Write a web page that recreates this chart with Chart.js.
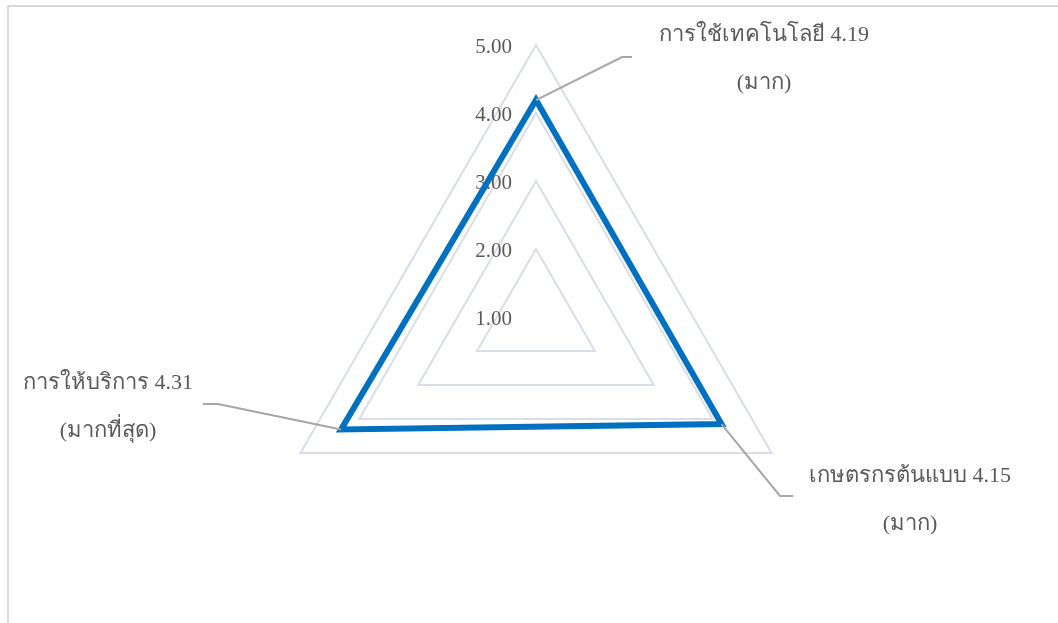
<!DOCTYPE html>
<html>
<head>
<meta charset="utf-8">
<script src="https://cdn.jsdelivr.net/npm/chart.js@4/dist/chart.umd.min.js"></script>
<style>
  body { margin: 0; background: #fff; }
  #frame { position: absolute; left: 7px; top: 5px; right: 0; bottom: 0;
           border-top: 2px solid #d9d9d9; border-left: 2px solid #d9d9d9; }
  #radarChart { position: absolute; left: 0; top: 0; }
</style>
</head>
<body>
<div id="frame"></div>
<canvas id="radarChart" width="1058" height="623"></canvas>
<script>
// data
var categories = ['การใช้เทคโนโลยี', 'เกษตรกรต้นแบบ', 'การให้บริการ'];
var scores = [4.19, 4.15, 4.31];
var levels = ['มาก', 'มาก', 'มากที่สุด'];
var tickLabels = ['1.00', '2.00', '3.00', '4.00', '5.00'];

var textColor = '#595959';
var fontFamily = '"Liberation Serif", "DejaVu Serif", serif';

// tick labels sit left of the vertical axis, 1.00 included at the centre
var tickLabelPlugin = {
    id: 'tickLabels',
    beforeDatasetsDraw: function(chart) {
        var scale = chart.scales.r;
        var ctx = chart.ctx;
        ctx.save();
        ctx.font = '21px ' + fontFamily;
        ctx.fillStyle = textColor;
        ctx.textAlign = 'right';
        ctx.textBaseline = 'middle';
        scale.ticks.forEach(function(tick, i) {
            var y = scale.yCenter - scale.getDistanceFromCenterForValue(tick.value);
            ctx.fillText(tickLabels[i], scale.xCenter - 24, y + 2);
        });
        ctx.restore();
    }
};

// callout boxes with leader lines
var callouts = [
    { elbow: [622, 57], end: [632, 57], text: [764, 35] },
    { elbow: [780, 496], end: [793, 496], text: [910, 476] },
    { elbow: [218, 404], end: [203, 404], text: [108, 383] }
];

var calloutPlugin = {
    id: 'callouts',
    afterDatasetsDraw: function(chart) {
        var ctx = chart.ctx;
        var points = chart.getDatasetMeta(0).data;
        ctx.save();
        ctx.strokeStyle = '#a6a6a6';
        ctx.lineWidth = 2;
        ctx.font = '22px ' + fontFamily;
        ctx.fillStyle = textColor;
        ctx.textAlign = 'center';
        ctx.textBaseline = 'middle';
        points.forEach(function(p, i) {
            var c = callouts[i];
            ctx.beginPath();
            ctx.moveTo(p.x, p.y);
            ctx.lineTo(c.elbow[0], c.elbow[1]);
            ctx.lineTo(c.end[0], c.end[1]);
            ctx.stroke();
            ctx.fillText(categories[i] + ' ' + scores[i].toFixed(2), c.text[0], c.text[1]);
            ctx.fillText('(' + levels[i] + ')', c.text[0], c.text[1] + 48);
        });
        ctx.restore();
    }
};

var ctx = document.getElementById('radarChart').getContext('2d');
var radarChart = new Chart(ctx, {
    type: 'radar',
    data: {
        labels: categories,
        datasets: [{
            label: 'คะแนนเฉลี่ย',
            data: scores,
            fill: false,
            borderColor: '#0070c0',
            backgroundColor: 'rgba(0,0,0,0)',
            borderWidth: 6,
            pointRadius: 0,
            pointHoverRadius: 0
        }]
    },
    options: {
        responsive: false,
        animation: false,
        devicePixelRatio: 1,
        layout: { padding: { top: 45, bottom: 34, left: 14, right: 0 } },
        plugins: {
            legend: { display: false },
            tooltip: { enabled: false }
        },
        scales: {
            r: {
                min: 1,
                max: 5,
                ticks: { stepSize: 1, display: false },
                pointLabels: { display: false },
                angleLines: { display: false },
                grid: { color: '#d8dde8', lineWidth: 2 }
            }
        }
    },
    plugins: [tickLabelPlugin, calloutPlugin]
});
</script>
</body>
</html>
